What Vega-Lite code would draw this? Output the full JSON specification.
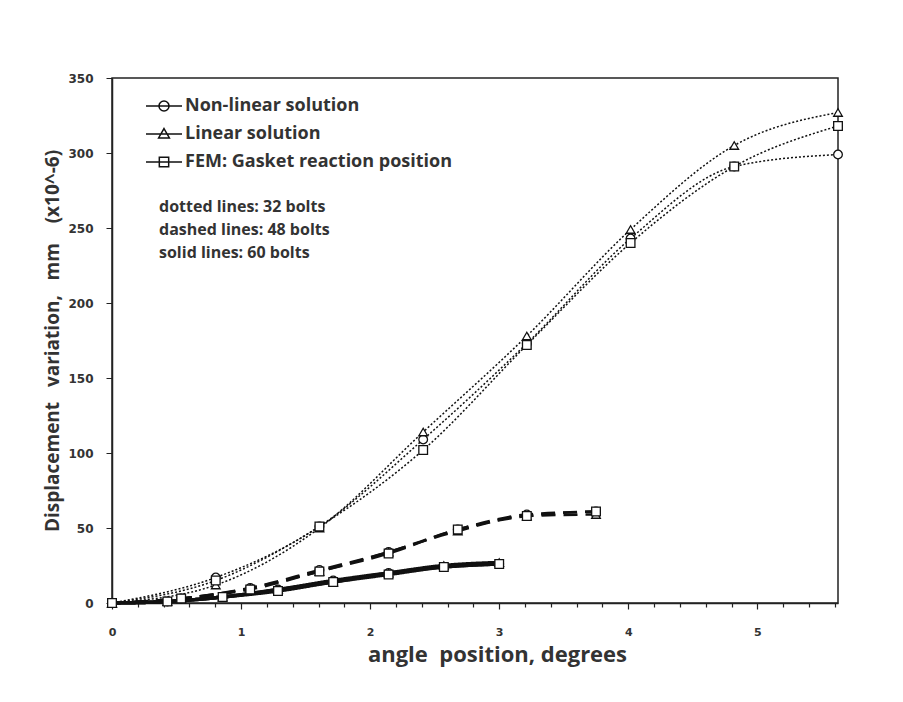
{
  "$schema": "https://vega.github.io/schema/vega-lite/v6.json",
  "width": 726,
  "height": 525,
  "autosize": {"type": "none"},
  "padding": {"left": 112, "top": 78, "right": 65, "bottom": 99},
  "background": "white",
  "config": {"view": {"stroke": "#222", "strokeWidth": 1.5}, "font": "Open Sans", "legend": {"padding": 0}},
  "data": {"values": [
    {"angle": 0, "disp": 0, "method": "Non-linear solution", "bolts": "dotted lines: 32 bolts"},
    {"angle": 0.804, "disp": 17, "method": "Non-linear solution", "bolts": "dotted lines: 32 bolts"},
    {"angle": 1.607, "disp": 51, "method": "Non-linear solution", "bolts": "dotted lines: 32 bolts"},
    {"angle": 2.411, "disp": 109, "method": "Non-linear solution", "bolts": "dotted lines: 32 bolts"},
    {"angle": 3.214, "disp": 173, "method": "Non-linear solution", "bolts": "dotted lines: 32 bolts"},
    {"angle": 4.018, "disp": 243, "method": "Non-linear solution", "bolts": "dotted lines: 32 bolts"},
    {"angle": 4.821, "disp": 291, "method": "Non-linear solution", "bolts": "dotted lines: 32 bolts"},
    {"angle": 5.625, "disp": 299, "method": "Non-linear solution", "bolts": "dotted lines: 32 bolts"},
    {"angle": 0, "disp": 0, "method": "Linear solution", "bolts": "dotted lines: 32 bolts"},
    {"angle": 0.804, "disp": 12, "method": "Linear solution", "bolts": "dotted lines: 32 bolts"},
    {"angle": 1.607, "disp": 50, "method": "Linear solution", "bolts": "dotted lines: 32 bolts"},
    {"angle": 2.411, "disp": 114, "method": "Linear solution", "bolts": "dotted lines: 32 bolts"},
    {"angle": 3.214, "disp": 178, "method": "Linear solution", "bolts": "dotted lines: 32 bolts"},
    {"angle": 4.018, "disp": 249, "method": "Linear solution", "bolts": "dotted lines: 32 bolts"},
    {"angle": 4.821, "disp": 305, "method": "Linear solution", "bolts": "dotted lines: 32 bolts"},
    {"angle": 5.625, "disp": 327, "method": "Linear solution", "bolts": "dotted lines: 32 bolts"},
    {"angle": 0, "disp": 0, "method": "FEM: Gasket reaction position", "bolts": "dotted lines: 32 bolts"},
    {"angle": 0.804, "disp": 15, "method": "FEM: Gasket reaction position", "bolts": "dotted lines: 32 bolts"},
    {"angle": 1.607, "disp": 51, "method": "FEM: Gasket reaction position", "bolts": "dotted lines: 32 bolts"},
    {"angle": 2.411, "disp": 102, "method": "FEM: Gasket reaction position", "bolts": "dotted lines: 32 bolts"},
    {"angle": 3.214, "disp": 172, "method": "FEM: Gasket reaction position", "bolts": "dotted lines: 32 bolts"},
    {"angle": 4.018, "disp": 240, "method": "FEM: Gasket reaction position", "bolts": "dotted lines: 32 bolts"},
    {"angle": 4.821, "disp": 291, "method": "FEM: Gasket reaction position", "bolts": "dotted lines: 32 bolts"},
    {"angle": 5.625, "disp": 318, "method": "FEM: Gasket reaction position", "bolts": "dotted lines: 32 bolts"},
    {"angle": 0, "disp": 0, "method": "Non-linear solution", "bolts": "dashed lines: 48 bolts"},
    {"angle": 0.536, "disp": 3, "method": "Non-linear solution", "bolts": "dashed lines: 48 bolts"},
    {"angle": 1.071, "disp": 10, "method": "Non-linear solution", "bolts": "dashed lines: 48 bolts"},
    {"angle": 1.607, "disp": 22, "method": "Non-linear solution", "bolts": "dashed lines: 48 bolts"},
    {"angle": 2.143, "disp": 34, "method": "Non-linear solution", "bolts": "dashed lines: 48 bolts"},
    {"angle": 2.679, "disp": 49, "method": "Non-linear solution", "bolts": "dashed lines: 48 bolts"},
    {"angle": 3.214, "disp": 59, "method": "Non-linear solution", "bolts": "dashed lines: 48 bolts"},
    {"angle": 3.75, "disp": 61, "method": "Non-linear solution", "bolts": "dashed lines: 48 bolts"},
    {"angle": 0, "disp": 0, "method": "Linear solution", "bolts": "dashed lines: 48 bolts"},
    {"angle": 0.536, "disp": 3, "method": "Linear solution", "bolts": "dashed lines: 48 bolts"},
    {"angle": 1.071, "disp": 10, "method": "Linear solution", "bolts": "dashed lines: 48 bolts"},
    {"angle": 1.607, "disp": 21, "method": "Linear solution", "bolts": "dashed lines: 48 bolts"},
    {"angle": 2.143, "disp": 34, "method": "Linear solution", "bolts": "dashed lines: 48 bolts"},
    {"angle": 2.679, "disp": 48, "method": "Linear solution", "bolts": "dashed lines: 48 bolts"},
    {"angle": 3.214, "disp": 58, "method": "Linear solution", "bolts": "dashed lines: 48 bolts"},
    {"angle": 3.75, "disp": 59, "method": "Linear solution", "bolts": "dashed lines: 48 bolts"},
    {"angle": 0, "disp": 0, "method": "FEM: Gasket reaction position", "bolts": "dashed lines: 48 bolts"},
    {"angle": 0.536, "disp": 3, "method": "FEM: Gasket reaction position", "bolts": "dashed lines: 48 bolts"},
    {"angle": 1.071, "disp": 9, "method": "FEM: Gasket reaction position", "bolts": "dashed lines: 48 bolts"},
    {"angle": 1.607, "disp": 21, "method": "FEM: Gasket reaction position", "bolts": "dashed lines: 48 bolts"},
    {"angle": 2.143, "disp": 33, "method": "FEM: Gasket reaction position", "bolts": "dashed lines: 48 bolts"},
    {"angle": 2.679, "disp": 49, "method": "FEM: Gasket reaction position", "bolts": "dashed lines: 48 bolts"},
    {"angle": 3.214, "disp": 58, "method": "FEM: Gasket reaction position", "bolts": "dashed lines: 48 bolts"},
    {"angle": 3.75, "disp": 61, "method": "FEM: Gasket reaction position", "bolts": "dashed lines: 48 bolts"},
    {"angle": 0, "disp": 0, "method": "Non-linear solution", "bolts": "solid lines: 60 bolts"},
    {"angle": 0.429, "disp": 1, "method": "Non-linear solution", "bolts": "solid lines: 60 bolts"},
    {"angle": 0.857, "disp": 4, "method": "Non-linear solution", "bolts": "solid lines: 60 bolts"},
    {"angle": 1.286, "disp": 9, "method": "Non-linear solution", "bolts": "solid lines: 60 bolts"},
    {"angle": 1.714, "disp": 15, "method": "Non-linear solution", "bolts": "solid lines: 60 bolts"},
    {"angle": 2.143, "disp": 20, "method": "Non-linear solution", "bolts": "solid lines: 60 bolts"},
    {"angle": 2.571, "disp": 24, "method": "Non-linear solution", "bolts": "solid lines: 60 bolts"},
    {"angle": 3.0, "disp": 26, "method": "Non-linear solution", "bolts": "solid lines: 60 bolts"},
    {"angle": 0, "disp": 0, "method": "Linear solution", "bolts": "solid lines: 60 bolts"},
    {"angle": 0.429, "disp": 1, "method": "Linear solution", "bolts": "solid lines: 60 bolts"},
    {"angle": 0.857, "disp": 4, "method": "Linear solution", "bolts": "solid lines: 60 bolts"},
    {"angle": 1.286, "disp": 9, "method": "Linear solution", "bolts": "solid lines: 60 bolts"},
    {"angle": 1.714, "disp": 14, "method": "Linear solution", "bolts": "solid lines: 60 bolts"},
    {"angle": 2.143, "disp": 20, "method": "Linear solution", "bolts": "solid lines: 60 bolts"},
    {"angle": 2.571, "disp": 25, "method": "Linear solution", "bolts": "solid lines: 60 bolts"},
    {"angle": 3.0, "disp": 27, "method": "Linear solution", "bolts": "solid lines: 60 bolts"},
    {"angle": 0, "disp": 0, "method": "FEM: Gasket reaction position", "bolts": "solid lines: 60 bolts"},
    {"angle": 0.429, "disp": 1, "method": "FEM: Gasket reaction position", "bolts": "solid lines: 60 bolts"},
    {"angle": 0.857, "disp": 4, "method": "FEM: Gasket reaction position", "bolts": "solid lines: 60 bolts"},
    {"angle": 1.286, "disp": 8, "method": "FEM: Gasket reaction position", "bolts": "solid lines: 60 bolts"},
    {"angle": 1.714, "disp": 14, "method": "FEM: Gasket reaction position", "bolts": "solid lines: 60 bolts"},
    {"angle": 2.143, "disp": 19, "method": "FEM: Gasket reaction position", "bolts": "solid lines: 60 bolts"},
    {"angle": 2.571, "disp": 24, "method": "FEM: Gasket reaction position", "bolts": "solid lines: 60 bolts"},
    {"angle": 3.0, "disp": 26, "method": "FEM: Gasket reaction position", "bolts": "solid lines: 60 bolts"}
  ]},
  "encoding": {
    "x": {
      "field": "angle", "type": "quantitative",
      "scale": {"domain": [0, 5.625], "nice": false, "zero": false},
      "axis": {
        "title": "angle\u00a0 position, degrees",
        "values": [0,0.2,0.4,0.6,0.8,1,1.2,1.4,1.6,1.8,2,2.2,2.4,2.6,2.8,3,3.2,3.4,3.6,3.8,4,4.2,4.4,4.6,4.8,5,5.2,5.4,5.6],
        "labelExpr": "abs(datum.value - round(datum.value)) < 0.01 ? format(datum.value, 'd') : ''",
        "tickSize": {"condition": {"test": "abs(datum.value - round(datum.value)) < 0.01", "value": 6}, "value": 4},
        "grid": false,
        "domainColor": "#222", "domainWidth": 1.5,
        "tickColor": "#222", "tickWidth": 1.2,
        "labelFont": "DejaVu Sans", "labelFontWeight": "bold", "labelFontSize": 11, "labelColor": "#333",
        "labelPadding": 17, "labelFlush": false,
        "titleFont": "Open Sans", "titleFontSize": 22, "titleFontWeight": "bold", "titleColor": "#333",
        "titlePadding": 7, "titleX": 385
      }
    },
    "y": {
      "field": "disp", "type": "quantitative",
      "scale": {"domain": [0, 350], "nice": false},
      "axis": {
        "title": "Displacement\u00a0\u00a0 variation,\u00a0\u00a0 mm\u00a0\u00a0\u00a0 (x10^-6)",
        "values": [0,50,100,150,200,250,300,350],
        "grid": false,
        "domainColor": "#222", "domainWidth": 1.5,
        "tickColor": "#222", "tickSize": 6,
        "labelFont": "DejaVu Sans", "labelFontWeight": "bold", "labelFontSize": 12, "labelColor": "#333",
        "labelPadding": 13,
        "titleFont": "Open Sans", "titleFontSize": 19, "titleFontWeight": "bold", "titleColor": "#333",
        "titlePadding": 5
      }
    }
  },
  "resolve": {"scale": {"shape": "independent"}, "legend": {"shape": "independent"}},
  "layer": [
    {
      "mark": {"type": "line", "interpolate": "monotone", "color": "#111"},
      "encoding": {
        "detail": {"field": "method"},
        "strokeDash": {
          "field": "bolts", "type": "nominal",
          "scale": {"domain": ["dotted lines: 32 bolts", "dashed lines: 48 bolts", "solid lines: 60 bolts"], "range": [[2, 2], [14, 8], [1, 0]]},
          "legend": {
            "orient": "none", "legendX": 31, "legendY": 121, "title": null,
            "symbolSize": 0, "symbolOpacity": 0, "symbolStrokeWidth": 0, "labelOffset": 0,
            "labelFont": "Open Sans", "labelFontSize": 16, "labelFontWeight": "bold", "labelColor": "#333",
            "rowPadding": 7, "labelLimit": 300
          }
        },
        "strokeWidth": {
          "field": "bolts", "type": "nominal",
          "scale": {"domain": ["dotted lines: 32 bolts", "dashed lines: 48 bolts", "solid lines: 60 bolts"], "range": [1.5, 3.5, 3]},
          "legend": null
        }
      }
    },
    {
      "mark": {"type": "point", "fill": "white", "stroke": "#111", "strokeWidth": 1.3, "opacity": 1, "size": 75},
      "encoding": {
        "shape": {
          "field": "method", "type": "nominal",
          "scale": {"domain": ["Non-linear solution", "Linear solution", "FEM: Gasket reaction position"], "range": ["circle", "triangle-up", "square"]},
          "legend": null
        }
      }
    },
    {
      "mark": {"type": "point", "fill": "white", "stroke": "#111", "strokeWidth": 2, "opacity": 0, "size": 1},
      "encoding": {
        "shape": {
          "field": "method", "type": "nominal",
          "scale": {"domain": ["Non-linear solution", "Linear solution", "FEM: Gasket reaction position"], "range": [
            "M-1,0H1M0.28,0A0.28,0.28 0 1,1 -0.28,0A0.28,0.28 0 1,1 0.28,0Z",
            "M-1,0H1M0,-0.3L0.3,0.22L-0.3,0.22Z",
            "M-1,0H1M-0.26,-0.26H0.26V0.26H-0.26Z"
          ]},
          "legend": {
            "orient": "none", "legendX": 33, "legendY": 9, "title": null,
            "symbolSize": 1296,
            "labelFont": "Open Sans", "labelFontSize": 18, "labelFontWeight": "bold", "labelColor": "#333",
            "rowPadding": -8, "labelOffset": 2, "labelLimit": 400,
            "encode": {"symbols": {"update": {
              "stroke": {"value": "#111"}, "fill": {"value": "white"},
              "strokeWidth": {"value": 2}, "opacity": {"value": 1}, "fillOpacity": {"value": 1}, "strokeOpacity": {"value": 1}
            }}}
          }
        }
      }
    }
  ]
}
